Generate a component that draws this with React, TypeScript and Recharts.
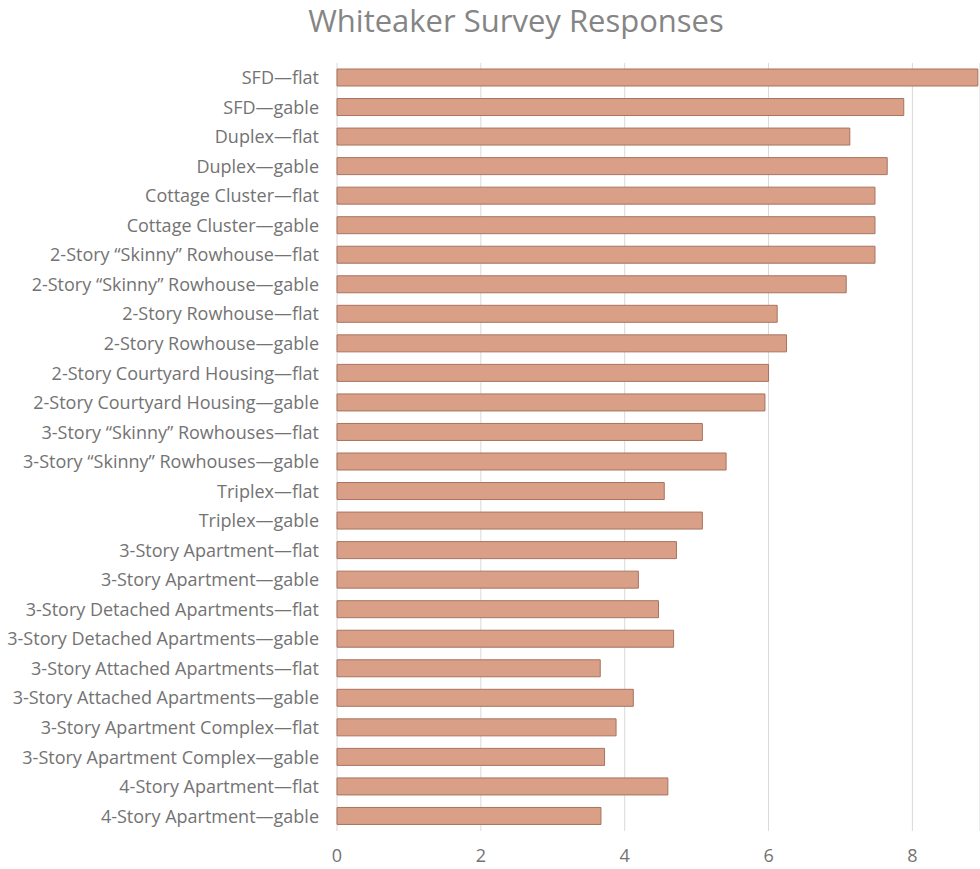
import { BarChart, Bar, XAxis, YAxis, CartesianGrid } from 'recharts'

const categories = [
  'SFD—flat',
  'SFD—gable',
  'Duplex—flat',
  'Duplex—gable',
  'Cottage Cluster—flat',
  'Cottage Cluster—gable',
  '2-Story “Skinny” Rowhouse—flat',
  '2-Story “Skinny” Rowhouse—gable',
  '2-Story Rowhouse—flat',
  '2-Story Rowhouse—gable',
  '2-Story Courtyard Housing—flat',
  '2-Story Courtyard Housing—gable',
  '3-Story “Skinny” Rowhouses—flat',
  '3-Story “Skinny” Rowhouses—gable',
  'Triplex—flat',
  'Triplex—gable',
  '3-Story Apartment—flat',
  '3-Story Apartment—gable',
  '3-Story Detached Apartments—flat',
  '3-Story Detached Apartments—gable',
  '3-Story Attached Apartments—flat',
  '3-Story Attached Apartments—gable',
  '3-Story Apartment Complex—flat',
  '3-Story Apartment Complex—gable',
  '4-Story Apartment—flat',
  '4-Story Apartment—gable',
]

const responses = [
  8.91, 7.88, 7.13, 7.65, 7.48, 7.48, 7.48, 7.08, 6.12, 6.25, 6.0, 5.95, 5.08,
  5.41, 4.55, 5.08, 4.72, 4.19, 4.47, 4.68, 3.66, 4.12, 3.88, 3.72, 4.6, 3.67,
]

const xTicks = [0, 2, 4, 6, 8]

const data = categories.map((name, i) => ({ name, value: responses[i] }))

const font = '"Open Sans", "Noto Sans", sans-serif'

export default function App() {
  return (
    <div style={{ position: 'absolute', left: 0, top: 0, width: 980, height: 869, background: '#fff' }}>
      <div
        style={{
          position: 'absolute',
          top: 0,
          left: 0,
          width: 1032,
          textAlign: 'center',
          fontFamily: font,
          fontSize: 31,
          lineHeight: '40px',
          color: '#858585',
        }}
      >
        Whiteaker Survey Responses
      </div>
      <BarChart
        width={980}
        height={869}
        data={data}
        layout="vertical"
        margin={{ top: 63, right: 0, bottom: 0, left: 0 }}
        barCategoryGap={6}
      >
        <CartesianGrid horizontal={false} stroke="#d9d9d9" />
        <XAxis
          type="number"
          domain={[0, 8.94]}
          ticks={xTicks}
          axisLine={false}
          tickLine={false}
          tickSize={0}
          tickMargin={18}
          height={38}
          tick={{ fill: '#737373', fontSize: 18, fontFamily: font }}
        />
        <YAxis
          type="category"
          dataKey="name"
          width={337}
          axisLine={false}
          tickLine={false}
          tickSize={0}
          tickMargin={18}
          interval={0}
          tick={{ fill: '#737373', fontSize: 18, fontFamily: font }}
        />
        <Bar
          dataKey="value"
          fill="#d99f87"
          stroke="#a8735f"
          strokeWidth={1}
          barSize={17}
          isAnimationActive={false}
        />
      </BarChart>
    </div>
  )
}
